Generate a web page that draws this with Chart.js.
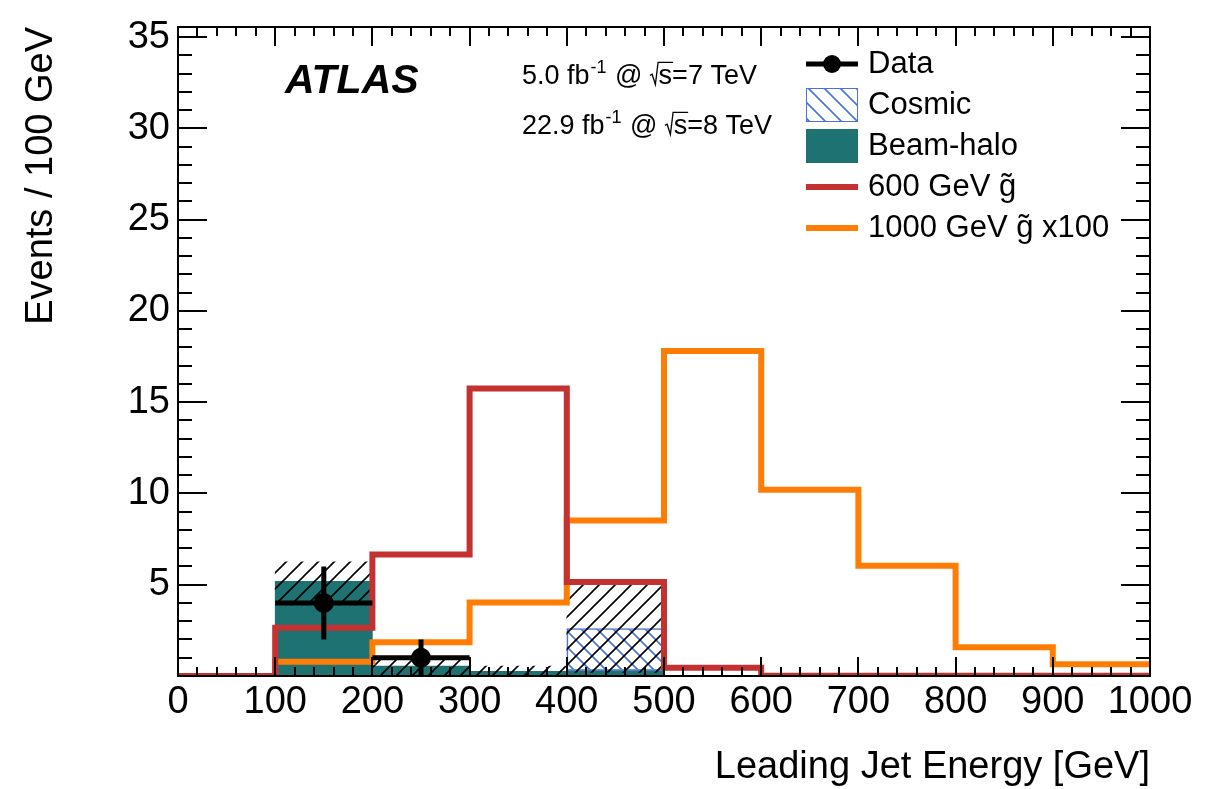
<!DOCTYPE html>
<html>
<head>
<meta charset="utf-8">
<script src="https://cdn.jsdelivr.net/npm/chart.js@4.4.1/dist/chart.umd.min.js"></script>
<style>
  html, body { margin: 0; padding: 0; background: #fff; }
  canvas { display: block; }
</style>
</head>
<body>
<canvas id="jetChart" width="1223" height="789"></canvas>
<script>
// Bins [GeV] and contents (events / 100 GeV)
const binEdges = [0, 100, 200, 300, 400, 500, 600, 700, 800, 900, 1000];
const beamHalo = [0, 5.18, 0.54, 0.25, 0.3, 0, 0, 0, 0, 0];
const cosmic = [0, 0, 0, 0, 2.3, 0, 0, 0, 0, 0];
const bkgError = [0, 1.08, 0.5, 0.3, 2.4, 0, 0, 0, 0, 0];
const gluino600 = [0, 2.64, 6.66, 15.75, 5.15, 0.45, 0.01, 0.01, 0.01, 0.01];
const gluino1000 = [0, 0.78, 1.85, 4.02, 8.52, 17.8, 10.2, 6.04, 1.58, 0.65];

// Data points
const dataX = [150, 250];
const dataY = [4, 1];
const dataErrX = [50, 50];
const dataErrY = [2, 1];

// Axis ticks
const xTicks = [0, 100, 200, 300, 400, 500, 600, 700, 800, 900, 1000];
const yTicks = [5, 10, 15, 20, 25, 30, 35];

const FONT = '"Liberation Sans", Arial, Helvetica, sans-serif';
const TEAL = '#1f7272';
const BLUE = '#4a72d9';
const RED = '#c33131';
const ORANGE = '#ff7d05';

const canvas = document.getElementById('jetChart');
const ctx = canvas.getContext('2d');

function hatch(color, dir, size, width) {
  const c = document.createElement('canvas');
  c.width = c.height = size;
  const g = c.getContext('2d');
  g.strokeStyle = color;
  g.lineWidth = width;
  g.beginPath();
  if (dir === '/') {
    g.moveTo(-2, size + 2); g.lineTo(size + 2, -2);
    g.moveTo(-2, 2); g.lineTo(2, -2);
    g.moveTo(size - 2, size + 2); g.lineTo(size + 2, size - 2);
  } else {
    g.moveTo(-2, -2); g.lineTo(size + 2, size + 2);
    g.moveTo(size - 2, -2); g.lineTo(size + 2, 2);
    g.moveTo(-2, size - 2); g.lineTo(2, size + 2);
  }
  g.stroke();
  return ctx.createPattern(c, 'repeat');
}

const blackHatch = hatch('#000', '/', 16, 1.6);
const blueHatch = hatch(BLUE, '\\', 16, 1.6);

const centers = binEdges.slice(0, -1).map((e, i) => (e + binEdges[i + 1]) / 2);

// histogram outline points: value of bin i starts at left edge
function steps(values) {
  return binEdges.map((x, i) => ({ x, y: values[Math.min(i, values.length - 1)] }));
}

const haloBars = centers.map((x, i) => ({ x, y: beamHalo[i] })).filter(d => d.y > 0);
const cosmicBars = centers.map((x, i) => ({ x, y: [beamHalo[i], beamHalo[i] + cosmic[i]] }))
  .filter(d => d.y[1] > d.y[0]);
const errBand = centers.map((x, i) => {
  const tot = beamHalo[i] + cosmic[i];
  return { x, y: [Math.max(0, tot - bkgError[i]), tot + bkgError[i]] };
}).filter(d => d.y[1] > d.y[0]);

const errH = [];
const errV = [];
dataX.forEach((x, i) => {
  errH.push({ x: x - dataErrX[i], y: dataY[i] }, { x: x + dataErrX[i], y: dataY[i] }, { x: x + dataErrX[i], y: null });
  errV.push({ x, y: Math.max(0, dataY[i] - dataErrY[i]) }, { x, y: dataY[i] + dataErrY[i] }, { x, y: null });
});

// frame with inward ticks, ROOT style
const frameTicks = {
  id: 'frameTicks',
  afterDatasetsDraw(chart) {
    const { ctx, chartArea: { left, right, top, bottom } } = chart;
    const xs = chart.scales.x, ys = chart.scales.y;
    ctx.save();
    ctx.strokeStyle = '#000';
    ctx.lineWidth = 2;
    ctx.beginPath();
    for (let v = 0; v <= 1000; v += 20) {
      const px = Math.round(xs.getPixelForValue(v));
      const len = v % 100 === 0 ? 19 : 9;
      ctx.moveTo(px, bottom); ctx.lineTo(px, bottom - len);
      ctx.moveTo(px, top); ctx.lineTo(px, top + len);
    }
    for (let v = 0; v <= 35; v += 1) {
      const py = Math.round(ys.getPixelForValue(v));
      const len = v % 5 === 0 ? 29 : 14;
      ctx.moveTo(left, py); ctx.lineTo(left + len, py);
      ctx.moveTo(right, py); ctx.lineTo(right - len, py);
    }
    ctx.stroke();
    ctx.strokeRect(left, top, right - left, bottom - top);
    ctx.restore();
  }
};

function sqrtS(ctx, x, y, size) {
  // radical with a bar over "s", returns new x
  ctx.font = size + 'px ' + FONT;
  const sw = ctx.measureText('s').width;
  ctx.save();
  ctx.lineWidth = 1.3;
  ctx.beginPath();
  ctx.moveTo(x, y - size * 0.32);
  ctx.lineTo(x + size * 0.08, y - size * 0.36);
  ctx.lineTo(x + size * 0.2, y + size * 0.02);
  ctx.lineTo(x + size * 0.3, y - size * 0.8);
  ctx.lineTo(x + size * 0.32 + sw + 1, y - size * 0.8);
  ctx.stroke();
  ctx.restore();
  ctx.fillText('s', x + size * 0.32, y);
  return x + size * 0.32 + sw;
}

function lumiLine(ctx, x, y, lumi, energy) {
  const size = 27;
  ctx.font = size + 'px ' + FONT;
  ctx.fillText(lumi + ' fb', x, y);
  x += ctx.measureText(lumi + ' fb').width;
  ctx.font = Math.round(size * 0.65) + 'px ' + FONT;
  ctx.fillText('-1', x + 1, y - size * 0.42);
  x += ctx.measureText('-1').width + 2;
  ctx.font = size + 'px ' + FONT;
  ctx.fillText(' @ ', x, y);
  x += ctx.measureText(' @ ').width;
  x = sqrtS(ctx, x, y, size);
  ctx.font = size + 'px ' + FONT;
  ctx.fillText('=' + energy + ' TeV', x, y);
}

const annotations = {
  id: 'annotations',
  afterDraw(chart) {
    const ctx = chart.ctx;
    ctx.save();
    ctx.fillStyle = '#000';
    ctx.strokeStyle = '#000';
    ctx.textBaseline = 'alphabetic';
    ctx.textAlign = 'left';
    ctx.font = 'italic bold 41px ' + FONT;
    ctx.fillText('ATLAS', 285, 93);
    lumiLine(ctx, 522, 84, '5.0', '7');
    lumiLine(ctx, 522, 134, '22.9', '8');

    // legend
    const sx = 806, sw = 52, tx = 868;
    const rows = [64, 105, 146, 187, 228];
    ctx.font = '31px ' + FONT;
    ctx.textBaseline = 'middle';

    ctx.lineWidth = 5;
    ctx.beginPath();
    ctx.moveTo(sx, rows[0]); ctx.lineTo(sx + sw, rows[0]);
    ctx.stroke();
    ctx.beginPath();
    ctx.arc(sx + sw / 2, rows[0], 9, 0, Math.PI * 2);
    ctx.fill();
    ctx.fillText('Data', tx, rows[0]);

    ctx.fillStyle = blueHatch;
    ctx.fillRect(sx, rows[1] - 17, sw, 34);
    ctx.strokeStyle = BLUE;
    ctx.lineWidth = 1;
    ctx.strokeRect(sx + 0.5, rows[1] - 16.5, sw - 1, 33);
    ctx.fillStyle = '#000';
    ctx.fillText('Cosmic', tx, rows[1]);

    ctx.fillStyle = TEAL;
    ctx.fillRect(sx, rows[2] - 17, sw, 34);
    ctx.fillStyle = '#000';
    ctx.fillText('Beam-halo', tx, rows[2]);

    ctx.lineWidth = 6;
    ctx.strokeStyle = RED;
    ctx.beginPath();
    ctx.moveTo(sx, rows[3]); ctx.lineTo(sx + sw, rows[3]);
    ctx.stroke();
    ctx.fillText('600 GeV g\u0303', tx, rows[3]);

    ctx.strokeStyle = ORANGE;
    ctx.beginPath();
    ctx.moveTo(sx, rows[4]); ctx.lineTo(sx + sw, rows[4]);
    ctx.stroke();
    ctx.fillText('1000 GeV g\u0303 x100', tx, rows[4]);
    ctx.restore();
  }
};

new Chart(ctx, {
  type: 'bar',
  data: {
    datasets: [
      {
        label: 'Beam-halo',
        data: haloBars,
        backgroundColor: TEAL,
        borderWidth: 0,
        order: 6
      },
      {
        label: 'Cosmic',
        data: cosmicBars,
        backgroundColor: blueHatch,
        borderColor: BLUE,
        borderWidth: 1,
        borderSkipped: false,
        order: 5
      },
      {
        label: 'Uncertainty',
        data: errBand,
        backgroundColor: blackHatch,
        borderWidth: 0,
        order: 4
      },
      {
        type: 'line',
        label: '1000 GeV gluino x100',
        data: steps(gluino1000),
        stepped: true,
        borderColor: ORANGE,
        borderWidth: 6,
        borderJoinStyle: 'miter',
        pointRadius: 0,
        fill: false,
        order: 3
      },
      {
        type: 'line',
        label: '600 GeV gluino',
        data: steps(gluino600),
        stepped: true,
        borderColor: RED,
        borderWidth: 6,
        borderJoinStyle: 'miter',
        pointRadius: 0,
        fill: false,
        order: 2
      },
      {
        type: 'line',
        label: 'Data x-err',
        data: errH,
        borderColor: '#000',
        borderWidth: 5,
        pointRadius: 0,
        spanGaps: false,
        order: 1
      },
      {
        type: 'line',
        label: 'Data y-err',
        data: errV,
        borderColor: '#000',
        borderWidth: 5,
        pointRadius: 0,
        spanGaps: false,
        order: 1
      },
      {
        type: 'line',
        label: 'Data',
        data: dataX.map((x, i) => ({ x, y: dataY[i] })),
        showLine: false,
        pointRadius: 10,
        pointBackgroundColor: '#000',
        pointBorderWidth: 0,
        order: 0
      }
    ]
  },
  options: {
    responsive: false,
    animation: false,
    events: [],
    layout: { padding: { top: 17, right: 73, left: 0, bottom: 0 } },
    datasets: {
      bar: { grouped: false, barPercentage: 1, categoryPercentage: 1 }
    },
    plugins: {
      legend: { display: false },
      tooltip: { enabled: false }
    },
    scales: {
      x: {
        type: 'linear',
        min: 0,
        max: 1000,
        offset: false,
        grid: { display: false, drawTicks: false },
        border: { display: false },
        afterBuildTicks: s => { s.ticks = xTicks.map(v => ({ value: v })); },
        afterFit: s => { s.height = 113; },
        ticks: {
          color: '#000',
          padding: 8,
          maxRotation: 0,
          autoSkip: false,
          callback: v => String(v),
          font: { family: FONT, size: 38, lineHeight: 1 }
        },
        title: {
          display: true,
          text: 'Leading Jet Energy [GeV]',
          align: 'end',
          color: '#000',
          padding: { top: 0, bottom: 2 },
          font: { family: FONT, size: 38, lineHeight: 1 }
        }
      },
      y: {
        type: 'linear',
        min: 0,
        max: 35.55,
        grid: { display: false, drawTicks: false },
        border: { display: false },
        afterBuildTicks: s => { s.ticks = yTicks.map(v => ({ value: v })); },
        afterFit: s => { s.width = 178; },
        ticks: {
          color: '#000',
          padding: 8,
          callback: v => String(v),
          font: { family: FONT, size: 38, lineHeight: 1 }
        },
        title: {
          display: true,
          text: 'Events / 100 GeV',
          align: 'end',
          color: '#000',
          padding: { top: 23, bottom: 0 },
          font: { family: FONT, size: 38, lineHeight: 1 }
        }
      }
    }
  },
  plugins: [frameTicks, annotations]
});
</script>
</body>
</html>
